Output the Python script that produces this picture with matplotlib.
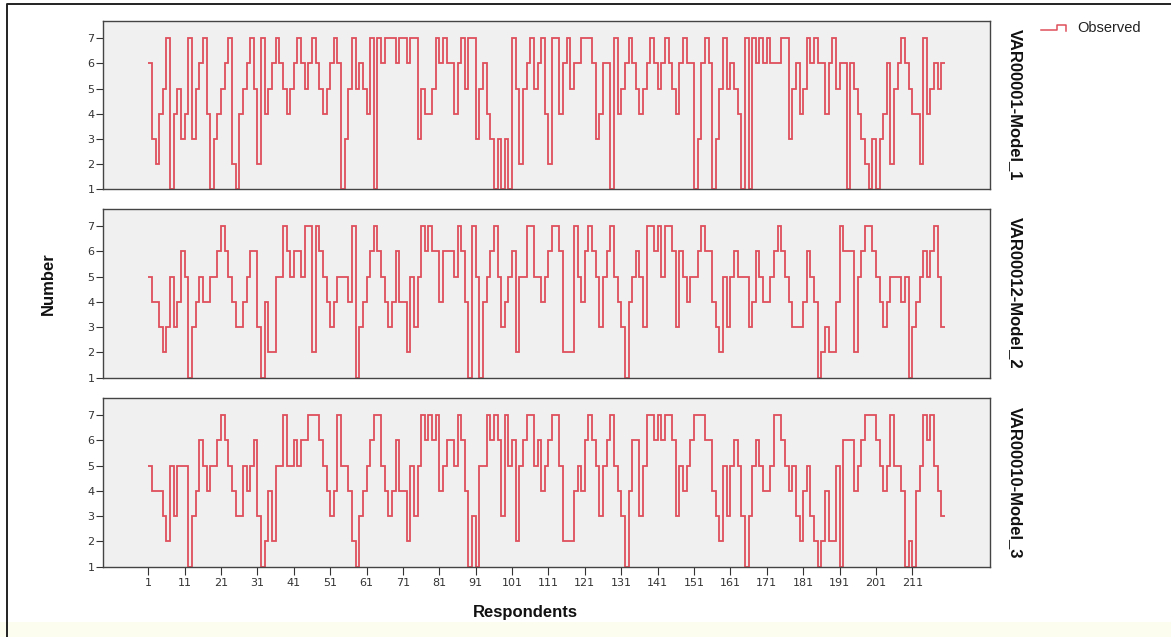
import numpy as np
import matplotlib
matplotlib.use("Agg")
import matplotlib.pyplot as plt
from matplotlib import font_manager
from matplotlib.lines import Line2D

# ---------------- data ----------------
model_1 = [6,3,2,4,5,7,1,4,5,3, 4,7,3,5,6,7,4,1,3,4, 5,6,7,2,1,4,5,6,7,5,
           2,7,4,5,6,7,6,5,4,5, 6,7,6,5,6,7,6,5,4,5, 6,7,6,1,3,5,7,5,6,5,
           4,7,1,7,6,7,7,7,6,7, 7,6,7,7,3,5,4,4,5,7, 6,7,6,6,4,6,7,5,7,7,
           3,5,6,4,3,1,3,1,3,1, 7,5,2,5,6,7,5,6,7,4, 2,7,7,4,6,7,5,6,6,7,
           7,7,6,3,4,6,6,1,7,4, 5,6,7,6,5,4,5,6,7,6, 5,6,7,6,5,4,6,7,6,6,
           1,3,6,7,6,1,3,5,7,5, 6,5,4,1,7,1,7,6,7,6, 7,6,6,6,7,7,3,5,6,4,
           5,7,6,7,6,6,4,6,7,5, 6,6,1,6,5,4,3,2,1,3, 1,3,4,6,2,5,6,7,6,5,
           4,4,2,7,4,5,6,5,6]
model_2 = [5,4,4,3,2,3,5,3,4,6, 5,1,3,4,5,4,4,5,5,6, 7,6,5,4,3,3,4,5,6,6,
           3,1,4,2,2,5,5,7,6,5, 6,6,5,7,7,2,7,6,5,4, 3,4,5,5,5,4,7,1,3,4,
           5,6,7,6,5,4,3,4,6,4, 4,2,5,3,5,7,6,7,6,6, 4,6,6,6,5,7,6,4,1,7,
           5,1,4,5,6,7,5,3,4,5, 6,2,5,5,7,7,5,5,4,5, 6,7,7,6,2,2,2,7,5,4,
           6,7,6,5,3,5,6,7,5,4, 3,1,4,5,6,5,3,7,7,6, 7,5,7,7,6,3,6,5,4,5,
           5,6,7,6,6,4,3,2,5,3, 5,6,5,5,5,3,4,6,5,4, 4,5,6,7,6,5,4,3,3,3,
           4,6,5,4,1,2,3,2,2,4, 7,6,6,6,2,5,6,7,7,6, 5,4,3,4,5,5,5,4,5,1,
           3,4,5,6,5,6,7,5,3]
model_3 = [5,4,4,4,3,2,5,3,5,5, 5,1,3,4,6,5,4,5,5,6, 7,6,5,4,3,3,5,4,5,6,
           3,1,2,4,2,5,5,7,5,5, 6,5,6,6,7,7,7,6,5,4, 3,4,7,5,5,4,2,1,3,4,
           5,6,7,7,5,4,3,4,6,4, 4,2,5,3,5,7,6,7,6,7, 4,5,6,6,5,7,6,4,1,3,
           1,5,5,7,6,7,6,3,7,5, 6,2,5,6,7,7,5,6,4,5, 6,7,7,5,2,2,2,4,5,4,
           6,7,6,5,3,5,6,7,5,4, 3,1,4,6,6,3,5,7,7,6, 7,6,7,7,6,3,5,4,5,6,
           7,7,7,6,6,4,3,2,5,3, 5,6,5,3,1,3,5,6,5,4, 4,5,7,7,6,5,4,5,3,2,
           4,5,3,2,1,2,4,2,2,5, 1,6,6,6,4,5,6,7,7,7, 6,5,4,5,7,5,5,4,1,2,
           1,4,5,7,6,7,5,4,3]

series = [model_1, model_2, model_3]
panel_labels = ["VAR00001-Model_1", "VAR00012-Model_2", "VAR00010-Model_3"]
y_ticks = [1, 2, 3, 4, 5, 6, 7]
x_ticks = list(range(1, 212, 10))
legend_label = "Observed"
y_label = "Number"
x_label = "Respondents"

# ---------------- fonts ----------------
installed = {f.name for f in font_manager.fontManager.ttflist}
sans = "Liberation Sans" if "Liberation Sans" in installed else "DejaVu Sans"
plt.rcParams["font.family"] = [sans, "DejaVu Sans"]

W, H = 1171, 637
fig = plt.figure(figsize=(W / 100, H / 100), dpi=100)
fig.patch.set_facecolor("white")

def fx(px):
    return px / W

def fy(py):
    return 1 - py / H

# cream strip at bottom and frame lines
fig.patches.append(plt.Rectangle((0, 0), 1, fy(622), transform=fig.transFigure,
                                 facecolor="#fdfdef", edgecolor="none", zorder=0))
fig.add_artist(Line2D([fx(7), fx(7), 1], [0, fy(4), fy(4)], transform=fig.transFigure,
                      color="#222222", lw=1.4))

line_color = "#de4f5b"
left_px, right_px = 103, 990
panels_px = [(21, 189.3), (209, 377.5), (398, 566.7)]
x0_px, px_per = 148.3, 3.638
xlim = (1 - (x0_px - left_px) / px_per, 1 + (right_px - x0_px) / px_per)

for i, (top, bot) in enumerate(panels_px):
    ax = fig.add_axes([fx(left_px), fy(bot), fx(right_px - left_px), (bot - top) / H])
    ax.set_facecolor("#f0f0f0")
    vals = np.array(series[i], dtype=float)
    edges = np.arange(1, len(vals) + 2)
    ax.stairs(vals, edges, baseline=None, color=line_color, lw=1.3)
    ax.set_xlim(*xlim)
    ax.set_ylim(1, 7.68)
    ax.set_yticks(y_ticks)
    ax.set_yticklabels([str(v) for v in y_ticks], fontsize=8, color="#333333", family="DejaVu Sans")
    ax.tick_params(axis="y", length=5, width=0.8, color="#333333", pad=1)
    for s in ax.spines.values():
        s.set_color("#444444")
        s.set_linewidth(1.0)
    if i < 2:
        ax.set_xticks([])
    else:
        ax.set_xticks(x_ticks)
        ax.set_xticklabels([str(v) for v in x_ticks], fontsize=8, color="#333333", family="DejaVu Sans")
        ax.tick_params(axis="x", length=6, width=0.8, color="#333333", pad=2)
    ax.text(1 + (1015 - right_px) / (right_px - left_px), 0.5, panel_labels[i],
            transform=ax.transAxes, rotation=-90, ha="center", va="center",
            fontsize=12, fontweight="bold", color="#111111")

fig.text(fx(48), fy(284), y_label, rotation=90, ha="center", va="center",
         fontsize=12, fontweight="bold", color="#111111")
fig.text(fx(525), fy(612), x_label, ha="center", va="center",
         fontsize=12, fontweight="bold", color="#111111")

# legend symbol + text
lx = [1041, 1057, 1057, 1066, 1066]
ly = [30, 30, 25, 25, 31]
fig.add_artist(Line2D([fx(v) for v in lx], [fy(v) for v in ly], transform=fig.transFigure,
                      color=line_color, lw=1.1))
fig.text(fx(1077), fy(28), legend_label, ha="left", va="center", fontsize=10.5, color="#222222")

fig.savefig("out.png", dpi=100)
